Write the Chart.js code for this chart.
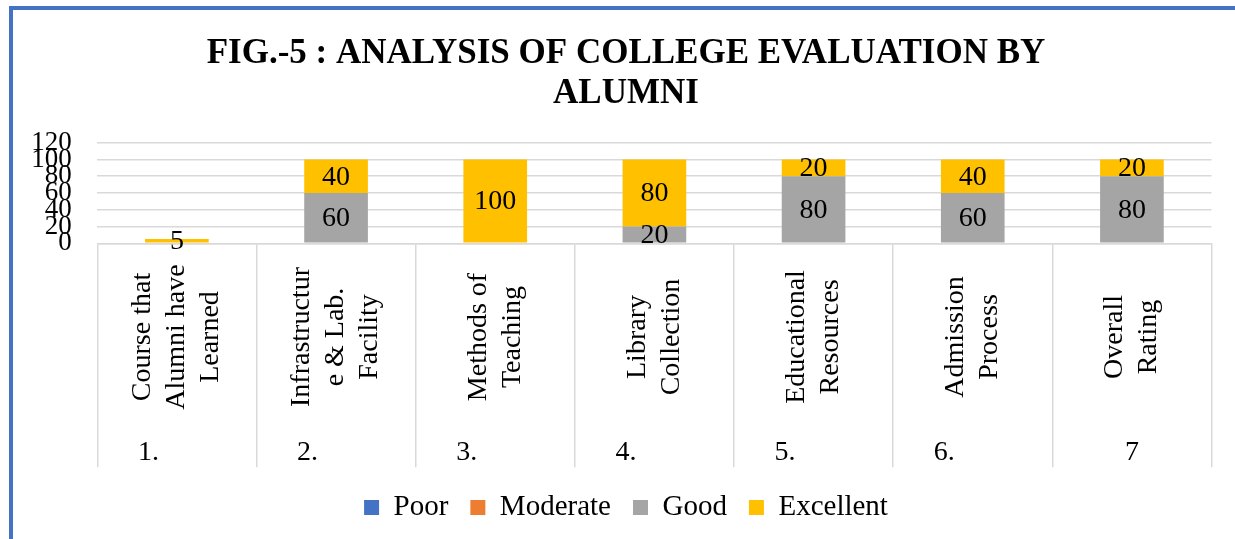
<!DOCTYPE html>
<html>
<head>
<meta charset="utf-8">
<script src="https://cdn.jsdelivr.net/npm/chart.js@4.4.1/dist/chart.umd.min.js"></script>
<style>
  html, body { margin: 0; padding: 0; background: #fff; overflow: hidden; }
  #wrap { position: relative; width: 1235px; height: 539px; }
  #grafica { position: absolute; left: 0; top: 0; }
  #marco { position: absolute; left: 9px; top: 6px; width: 1400px; height: 700px;
           border: 4px solid #4472C4; box-sizing: border-box; pointer-events: none; }
</style>
</head>
<body>
<div id="wrap">
  <canvas id="grafica" width="1235" height="539"></canvas>
  <div id="marco"></div>
</div>
<script>
// 1. DATOS DEL GRÁFICO
const categorias = [
  ["Course that", "Alumni have", "Learned"],
  ["Infrastructur", "e & Lab.", "Facility"],
  ["Methods of", "Teaching"],
  ["Library", "Collection"],
  ["Educational", "Resources"],
  ["Admission", "Process"],
  ["Overall", "Rating"]
];
const numeros = ["1.", "2.", "3.", "4.", "5.", "6.", "7"];

const poor      = [0, 0, 0, 0, 0, 0, 0];
const moderate  = [0, 0, 0, 0, 0, 0, 0];
const good      = [0, 60, 0, 20, 80, 60, 80];
const excellent = [5, 40, 100, 80, 20, 40, 20];

const yMin = 0;
const yMax = 120;
const yPaso = 20;

const titulo = ["FIG.-5 : ANALYSIS OF COLLEGE EVALUATION BY", "ALUMNI"];

// 2. ESTILO
const FUENTE = '"Liberation Serif", "Times New Roman", serif';
const GRIS_REJILLA = "#d9d9d9";

// 3. PLUGIN: etiquetas de datos y etiquetas de categoría (multinivel)
const etiquetasPlugin = {
  id: "etiquetas",
  afterDraw(chart) {
    const ctx = chart.ctx;
    const x = chart.scales.x;

    ctx.save();
    ctx.fillStyle = "#000";

    // valores dentro de las barras
    ctx.font = `28px ${FUENTE}`;
    ctx.textAlign = "center";
    ctx.textBaseline = "middle";
    chart.data.datasets.forEach((ds, di) => {
      const meta = chart.getDatasetMeta(di);
      if (meta.hidden) return;
      meta.data.forEach((bar, i) => {
        const v = ds.data[i];
        if (!v) return;
        ctx.fillText(String(v), bar.x, (bar.y + bar.base) / 2 + 1);
      });
    });

    // nombres de categoría girados
    categorias.forEach((lineas, i) => {
      const cx = x.getPixelForValue(i);
      const n = lineas.length;
      ctx.save();
      ctx.translate(cx, 337);
      ctx.rotate(-Math.PI / 2);
      ctx.textAlign = "center";
      ctx.textBaseline = "middle";
      lineas.forEach((t, j) => ctx.fillText(t, 0, (j - (n - 1) / 2) * 34));
      ctx.restore();
    });

    // números de la segunda fila
    ctx.textBaseline = "alphabetic";
    numeros.forEach((t, i) => {
      const cx = x.getPixelForValue(i);
      if (t.endsWith(".")) {
        ctx.textAlign = "left";
        ctx.fillText(t, cx - 39, 460);
      } else {
        ctx.textAlign = "center";
        ctx.fillText(t, cx, 460);
      }
    });
    ctx.restore();
  }
};

// 4. GRÁFICA
const ctx = document.getElementById("grafica").getContext("2d");
new Chart(ctx, {
  type: "bar",
  data: {
    labels: categorias.map(c => c.join(" ")),
    datasets: [
      { label: "Poor", data: poor, backgroundColor: "#4472C4" },
      { label: "Moderate", data: moderate, backgroundColor: "#ED7D31" },
      { label: "Good", data: good, backgroundColor: "#A5A5A5" },
      { label: "Excellent", data: excellent, backgroundColor: "#FFC000" }
    ]
  },
  options: {
    responsive: false,
    animation: false,
    devicePixelRatio: 1,
    layout: { padding: { left: 25, right: 8, top: 0, bottom: 7 } },
    datasets: { bar: { categoryPercentage: 1, barPercentage: 0.4, borderWidth: 0 } },
    plugins: {
      tooltip: { enabled: false },
      title: {
        display: true,
        text: titulo,
        color: "#000",
        font: { family: FUENTE, size: 35, weight: "bold", lineHeight: 40 / 35 },
        padding: { top: 34, bottom: 28.7 }
      },
      legend: {
        position: "bottom",
        labels: {
          color: "#000",
          boxWidth: 15,
          boxHeight: 15,
          padding: 22,
          font: { family: FUENTE, size: 29 }
        }
      }
    },
    scales: {
      x: {
        stacked: true,
        offset: true,
        grid: {
          offset: true,
          drawOnChartArea: false,
          drawTicks: true,
          tickLength: 224,
          color: GRIS_REJILLA,
          lineWidth: 1.5
        },
        border: { display: true, color: GRIS_REJILLA, width: 1.5 },
        ticks: { display: false },
        afterFit(s) { s.height = 227.7; }
      },
      y: {
        stacked: true,
        min: yMin,
        max: yMax,
        border: { display: false },
        grid: { color: GRIS_REJILLA, lineWidth: 1.5, drawTicks: false },
        ticks: {
          stepSize: yPaso,
          autoSkip: false,
          padding: 25.6,
          color: "#000",
          font: { family: FUENTE, size: 27 }
        },
        afterFit(s) { s.width = 72.3; }
      },
      // margen derecho vacío del área de trazado
      margen: {
        position: "right",
        display: true,
        grid: { display: false, drawTicks: false },
        border: { display: false },
        ticks: { display: false },
        afterFit(s) { s.width = 15.5; }
      }
    }
  },
  plugins: [etiquetasPlugin]
});
</script>
</body>
</html>
